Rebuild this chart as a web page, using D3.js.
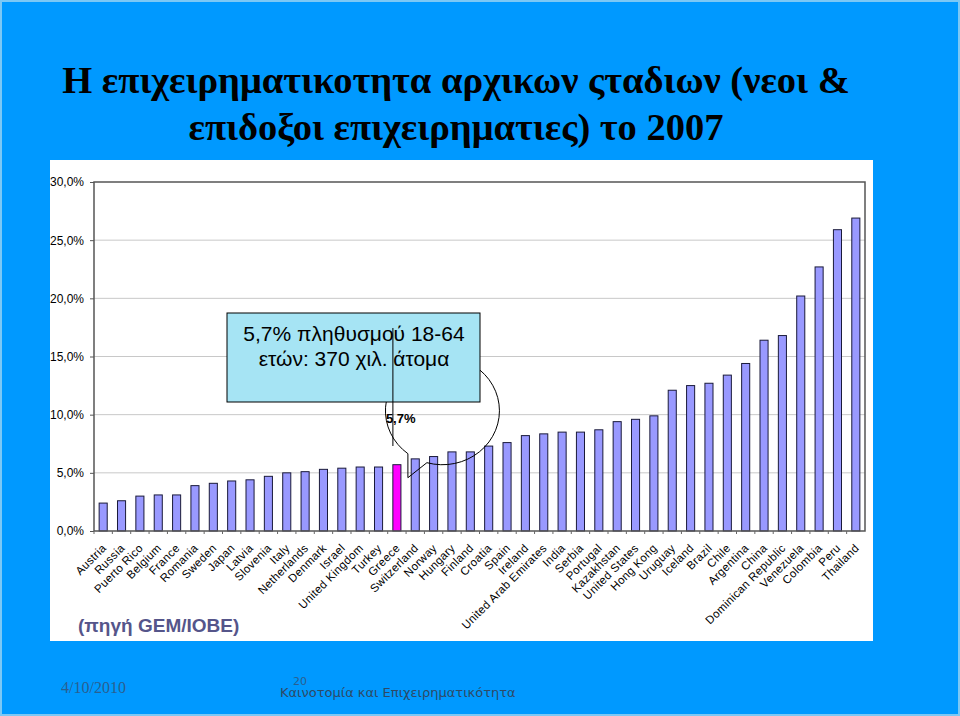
<!DOCTYPE html>
<html>
<head>
<meta charset="utf-8">
<script src="https://cdn.jsdelivr.net/npm/d3@7"></script>
<style>
  body { margin: 0; background: #0099ff; }
  svg { display: block; }
</style>
</head>
<body>
<script>
var width = 960,
    height = 716;

var countries = ["Austria", "Russia", "Puerto Rico", "Belgium", "France", "Romania", "Sweden",
                 "Japan", "Latvia", "Slovenia", "Italy", "Netherlands", "Denmark", "Israel",
                 "United Kingdom", "Turkey", "Greece", "Switzerland", "Norway", "Hungary",
                 "Finland", "Croatia", "Spain", "Ireland", "United Arab Emirates", "India",
                 "Serbia", "Portugal", "Kazakhstan", "United States", "Hong Kong", "Uruguay",
                 "Iceland", "Brazil", "Chile", "Argentina", "China", "Dominican Republic",
                 "Venezuela", "Colombia", "Peru", "Thailand"];

var rates = [2.4, 2.6, 3.0, 3.1, 3.1, 3.9, 4.1, 4.3, 4.4, 4.7, 5.0, 5.1, 5.3, 5.4,
             5.5, 5.5, 5.7, 6.2, 6.4, 6.8, 6.8, 7.3, 7.6, 8.2, 8.35, 8.5, 8.5, 8.7,
             9.4, 9.6, 9.9, 12.1, 12.5, 12.7, 13.4, 14.4, 16.4, 16.8, 20.2, 22.7,
             25.9, 26.9];

var yTicks = [0, 5, 10, 15, 20, 25, 30];
var highlight = "Greece";

var titleLines = ["Η επιχειρηματικοτητα αρχικων ςταδιων (νεοι &",
                  "επιδοξοι επιχειρηματιες) το 2007"];
var calloutLines = ["5,7% πληθυσμού 18-64", "ετών: 370 χιλ. άτομα"];

var data = countries.map(function(c, i) { return {country: c, rate: rates[i]}; });

var svg = d3.select("body")
            .append("svg")
            .attr("width", width)
            .attr("height", height);

// slide frame
svg.append("rect")
   .attr("x", 1).attr("y", 1)
   .attr("width", width - 2).attr("height", height - 2)
   .attr("fill", "#0099ff")
   .attr("stroke", "#7cc8f5")
   .attr("stroke-width", 2);

svg.selectAll(".title")
   .data(titleLines)
   .enter()
   .append("text")
   .attr("x", 456)
   .attr("y", function(d, i) { return 93 + i * 47; })
   .attr("text-anchor", "middle")
   .style("font-family", "'Liberation Serif', 'Times New Roman', serif")
   .style("font-weight", "bold")
   .style("font-size", "38.5px")
   .attr("fill", "#000")
   .text(function(d) { return d; });

// white chart panel
svg.append("rect")
   .attr("x", 50).attr("y", 160)
   .attr("width", 823).attr("height", 481)
   .attr("fill", "#fff");

var plot = {left: 94, top: 182, right: 865, bottom: 531};

var x = d3.scaleBand()
          .domain(countries)
          .range([plot.left, plot.right])
          .paddingInner(0.56)
          .paddingOuter(0.28);

var y = d3.scaleLinear()
          .domain([0, 30])
          .range([plot.bottom, plot.top]);

// gridlines
svg.append("g")
   .selectAll("line")
   .data(yTicks.slice(1, -1))
   .enter()
   .append("line")
   .attr("x1", plot.left).attr("x2", plot.right)
   .attr("y1", function(d) { return y(d); })
   .attr("y2", function(d) { return y(d); })
   .attr("stroke", "#c8c8c8")
   .attr("stroke-width", 1);

// y axis
var yAxis = svg.append("g")
   .attr("transform", "translate(" + plot.left + ",0)")
   .call(d3.axisLeft(y).tickValues(yTicks).tickSize(4).tickPadding(6)
          .tickFormat(function(d) { return d3.format(".1f")(d).replace(".", ",") + "%"; }));
yAxis.select(".domain").remove();
yAxis.selectAll("line").attr("stroke", "#555");
yAxis.selectAll("text")
     .style("font-family", "Arial, 'Liberation Sans', sans-serif")
     .style("font-size", "12px")
     .attr("fill", "#000");

// bars
svg.append("g")
   .selectAll("rect")
   .data(data)
   .enter()
   .append("rect")
   .attr("x", function(d) { return x(d.country); })
   .attr("y", function(d) { return y(d.rate); })
   .attr("width", x.bandwidth())
   .attr("height", function(d) { return y(0) - y(d.rate); })
   .attr("fill", function(d) { return d.country === highlight ? "#ff00ff" : "#9999ff"; })
   .attr("stroke", "#1a1a3a")
   .attr("stroke-width", 1);

// plot frame
svg.append("rect")
   .attr("x", plot.left).attr("y", plot.top)
   .attr("width", plot.right - plot.left)
   .attr("height", plot.bottom - plot.top)
   .attr("fill", "none")
   .attr("stroke", "#555")
   .attr("stroke-width", 1.5);

// x axis
var step = x.step();
var xAxis = svg.append("g")
   .attr("transform", "translate(0," + plot.bottom + ")")
   .call(d3.axisBottom(x).tickSize(0).tickPadding(0));
xAxis.select(".domain").remove();
xAxis.selectAll(".tick")
     .append("line")
     .attr("x1", -step / 2).attr("x2", -step / 2)
     .attr("y1", 0).attr("y2", 3)
     .attr("stroke", "#666");
xAxis.selectAll("text")
     .attr("text-anchor", "end")
     .attr("transform", "translate(1,15) rotate(-45)")
     .attr("dy", "0.35em")
     .style("font-family", "Arial, 'Liberation Sans', sans-serif")
     .style("font-size", "11.5px")
     .style("letter-spacing", "0.3px")
     .attr("fill", "#000");

// source note
svg.append("text")
   .attr("x", 78).attr("y", 632)
   .style("font-family", "Arial, 'Liberation Sans', sans-serif")
   .style("font-weight", "bold")
   .style("font-size", "19px")
   .attr("fill", "#55558a")
   .text("(πηγή GEM/IOBE)");

// callout: oval with tail pointing at the highlighted bar
var gx = x(highlight) + x.bandwidth() / 2,
    gy = y(rates[countries.indexOf(highlight)]);
var cx = gx + 43, cy = gy - 54, rx = 57, ry = 54;
var tailA = [gx + 30, cy + 52],
    tailB = [gx + 11, cy + 43],
    tip = [gx + 11, cy + 67];
svg.append("path")
   .attr("d", "M" + tailA + " A" + rx + "," + ry + " 0 1 0 " + tailB + " L" + tip + " Z")
   .attr("fill", "none")
   .attr("stroke", "#000")
   .attr("stroke-width", 1);

svg.append("rect")
   .attr("x", 227).attr("y", 313)
   .attr("width", 253).attr("height", 89)
   .attr("fill", "#a6e4f4")
   .attr("stroke", "#000")
   .attr("stroke-width", 1);

svg.selectAll(".callout")
   .data(calloutLines)
   .enter()
   .append("text")
   .attr("x", 354)
   .attr("y", function(d, i) { return 341 + i * 25; })
   .attr("text-anchor", "middle")
   .style("font-family", "Arial, 'Liberation Sans', sans-serif")
   .style("font-size", "21px")
   .attr("fill", "#000")
   .text(function(d) { return d; });

svg.append("line")
   .attr("x1", gx - 4).attr("x2", gx - 4)
   .attr("y1", 328).attr("y2", 446)
   .attr("stroke", "#000")
   .attr("stroke-width", 1);

svg.append("text")
   .attr("x", gx - 11).attr("y", 423)
   .style("font-family", "Arial, 'Liberation Sans', sans-serif")
   .style("font-weight", "bold")
   .style("font-size", "13px")
   .attr("fill", "#000")
   .text("5,7%");

// footer
svg.append("text")
   .attr("x", 61).attr("y", 693)
   .style("font-family", "'Liberation Serif', 'Times New Roman', serif")
   .style("font-size", "16px")
   .attr("fill", "#2a5f8f")
   .text("4/10/2010");

svg.append("text")
   .attr("x", 293).attr("y", 685)
   .style("font-family", "'DejaVu Sans', sans-serif")
   .style("font-size", "11px")
   .attr("fill", "#2a5f8f")
   .text("20");

svg.append("text")
   .attr("x", 280).attr("y", 697)
   .style("font-family", "'DejaVu Sans', sans-serif")
   .style("font-size", "13px")
   .attr("fill", "#2e4a66")
   .text("Καινοτομία και Επιχειρηματικότητα");
</script>
</body>
</html>
